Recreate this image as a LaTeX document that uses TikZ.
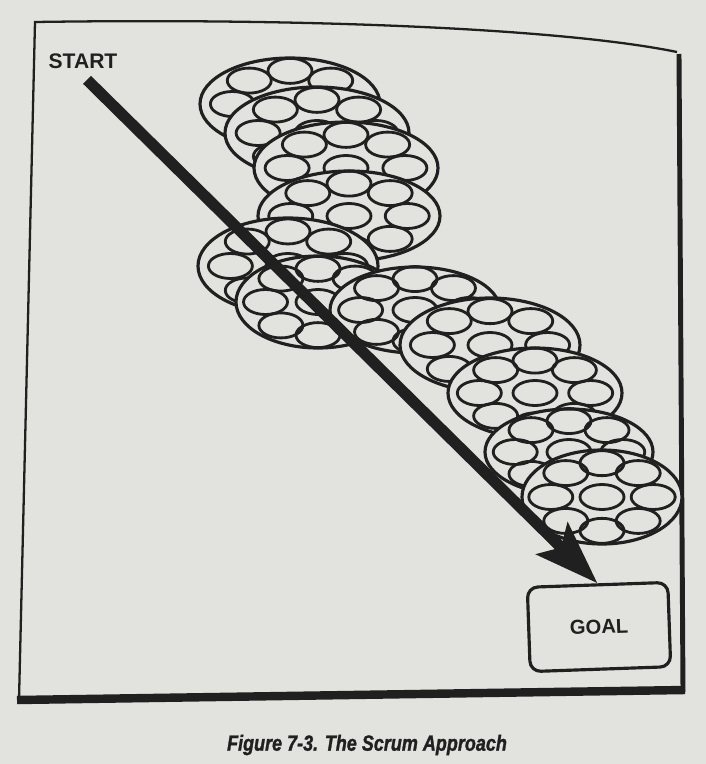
\documentclass[tikz,border=0pt]{standalone}
\usepackage{fontspec}
\setsansfont{Liberation Sans}
\newfontfamily\headfont{Liberation Sans Bold}
\newfontfamily\captionfont[FakeStretch=0.82, FakeBold=1.2]{Liberation Sans Bold Italic}
\usetikzlibrary{arrows.meta}
\definecolor{paper}{RGB}{226,226,222}
\definecolor{ink}{RGB}{32,32,32}

\begin{document}
\begin{tikzpicture}[x=0.02cm, y=-0.02cm,
  sprint/.style={draw=ink, fill=paper, line width=1.8pt},
  member/.style={draw=ink, line width=1.6pt},
  tag/.style={inner sep=0pt, text=ink, font=\headfont\fontsize{12}{14}\selectfont},
  goalbox/.style={draw=ink, line width=1.8pt, rounded corners=6pt, rotate=2,
    minimum width=80pt, minimum height=48pt, text=ink,
    font=\headfont\fontsize{11.5}{14}\selectfont}]
  \fill[paper] (0,0) rectangle (706,764);
  \useasboundingbox (0,0) rectangle (706,764);

  % frame of the figure
  \draw[ink, line width=1.3pt] (19,700) -- (35,22) .. controls (300,18) and (560,28) .. (677,52);
  \draw[ink, line width=2.8pt] (679,54) -- (683,692);
  \draw[ink, line width=4.8pt] (17,700) -- (685,690);

  % overlapping phases, each with its team
  \foreach \cx/\cy/\rx/\ry in {290/104/90/46, 317/133/92/46, 346/168/92/46,
      349/216/91/45, 288/266/90/48, 318/302/82/46, 415/310/85/43,
      490/345/90/47, 535/393/87/45, 569/452/84/43, 602/497/80/47}{
    \draw[sprint] (\cx,\cy) ellipse [x radius=\rx, y radius=\ry];
    \draw[member] (\cx,\cy) ellipse [x radius=22, y radius=12.5];
    \foreach \a in {0,45,...,315}
      \draw[member] ({\cx+0.64*\rx*cos(\a)},{\cy+0.72*\ry*sin(\a)})
        ellipse [x radius=22, y radius=12.5];
  }

  \node[tag] (start) at (83,61) {START};
  \node[goalbox] (goal) at (599,627) {GOAL};

  \draw[ink, line width=6.4pt, -{Stealth[length=36pt, width=25pt, inset=7pt]}]
    ([shift={(4,11)}]start.south) -- (goal.north);

  \node[text=ink, font=\captionfont\fontsize{12.5}{15}\selectfont]
    (caption) at (367,745) {Figure 7-3. The Scrum Approach};
\end{tikzpicture}
\end{document}
